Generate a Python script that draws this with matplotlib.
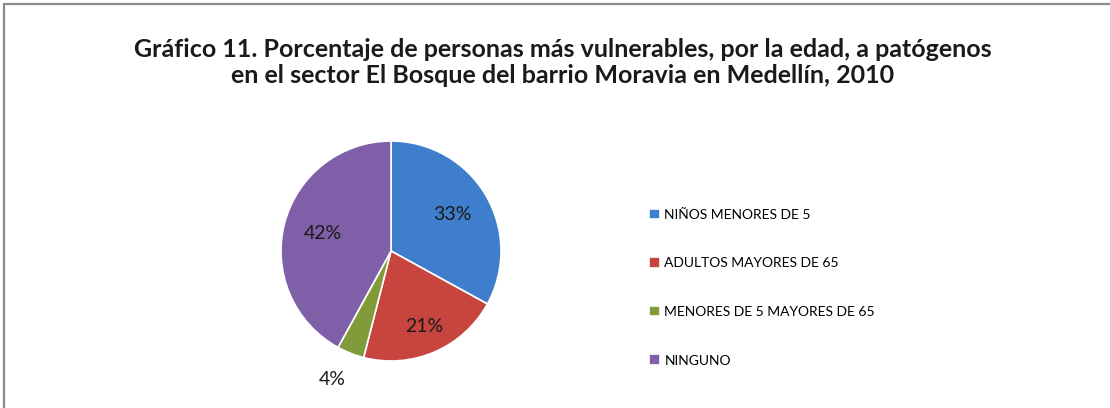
import numpy as np
import matplotlib.pyplot as plt
from matplotlib.patches import Rectangle

# datos del grafico
categorias = ['NIÑOS MENORES DE 5', 'ADULTOS MAYORES DE 65',
              'MENORES DE 5 MAYORES DE 65', 'NINGUNO']
porcentajes = [33, 21, 4, 42]
etiquetas = ['33%', '21%', '4%', '42%']

colores = ['#3E7ECC', '#C8453F', '#7F9B3A', '#7F5FA8']
dist_etiq = [0.65, 0.75, 1.28, 0.64]  # distancia radial de cada etiqueta

titulo = (u'Gráfico 11. Porcentaje de personas más vulnerables, por la edad, a patógenos\n'
          u'en el sector El Bosque del barrio Moravia en Medellín, 2010')

plt.rcParams['font.family'] = ['Lato', 'DejaVu Sans']

fig = plt.figure(figsize=(11.1, 4.08), dpi=100)

# marco gris del grafico (solo se ve arriba y a la izquierda)
fig.patches.append(Rectangle((4 / 1110, -0.2), 1.2, 1.2 - 4 / 408, transform=fig.transFigure,
                             fill=False, edgecolor='#8a8a8a', linewidth=1.6))

fig.text(0.507, 0.847, titulo, ha='center', va='center', fontsize=18, fontweight='bold',
         color='#1a1a1a', linespacing=1.2)

# pastel: centro ~ (391, 251) px, radio ~ 110 px
cx, cy, r = 391, 251, 110
ax = fig.add_axes([(cx - r) / 1110, (408 - cy - r) / 408, 2 * r / 1110, 2 * r / 408])
cunas, _ = ax.pie(porcentajes, colors=colores, startangle=90, counterclock=False,
                  wedgeprops=dict(edgecolor='white', linewidth=1.2), radius=1)
ax.set_xlim(-1, 1)
ax.set_ylim(-1, 1)

for c, txt, d in zip(cunas, etiquetas, dist_etiq):
    ang = np.deg2rad((c.theta1 + c.theta2) / 2 - (3 if txt == '4%' else 0))
    ax.text(d * np.cos(ang), d * np.sin(ang), txt, ha='center', va='center',
            fontsize=14, color='#1a1a1a')

fig.legend(cunas, categorias, loc='center left', bbox_to_anchor=(0.578, 0.295),
           frameon=False, fontsize=10, handlelength=0.8, handleheight=0.8,
           handletextpad=0.35, labelspacing=2.62, borderpad=0)

fig.savefig('out.png', dpi=100)
